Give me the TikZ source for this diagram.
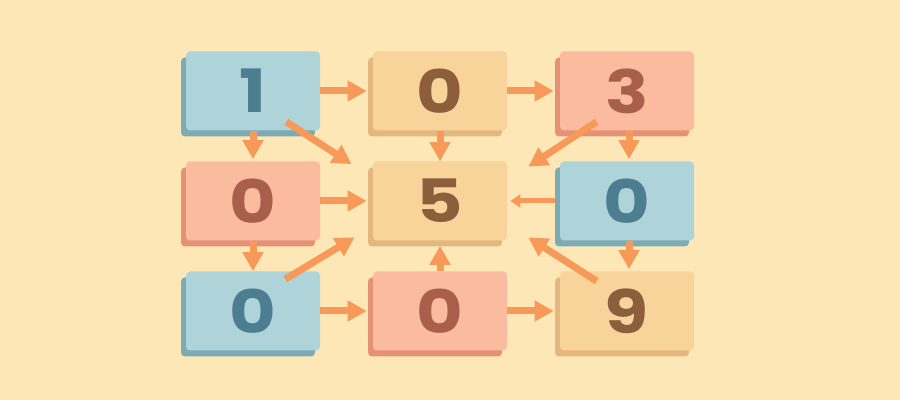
\documentclass[tikz,border=0pt]{standalone}
\usepackage{fontspec}
\usepackage{graphicx}
\setmainfont{Poppins}
\usetikzlibrary{arrows.meta,shadows}
\definecolor{bg}{RGB}{253,231,183}
\definecolor{blueface}{RGB}{174,212,217}
\definecolor{blueside}{RGB}{124,170,181}
\definecolor{bluetext}{RGB}{76,125,145}
\definecolor{tanface}{RGB}{248,212,155}
\definecolor{tanside}{RGB}{228,183,127}
\definecolor{tantext}{RGB}{140,94,60}
\definecolor{salmonface}{RGB}{251,187,158}
\definecolor{salmonside}{RGB}{228,145,118}
\definecolor{salmontext}{RGB}{168,96,76}
\definecolor{arrowc}{RGB}{247,153,88}
\newcommand{\wide}[1]{\scalebox{1.2}[1]{#1}}
\begin{document}
\begin{tikzpicture}[
            box/.style={rectangle, rounded corners=0.08cm, minimum width=2.68cm, minimum height=1.58cm, inner sep=0pt, font=\fontsize{34}{34}\selectfont\bfseries},
            bluebox/.style={box, fill=blueface, text=bluetext, copy shadow={shadow xshift=-0.1cm, shadow yshift=-0.12cm, fill=blueside, draw=none}},
            tanbox/.style={box, fill=tanface, text=tantext, copy shadow={shadow xshift=-0.1cm, shadow yshift=-0.12cm, fill=tanside, draw=none}},
            salmonbox/.style={box, fill=salmonface, text=salmontext, copy shadow={shadow xshift=-0.1cm, shadow yshift=-0.12cm, fill=salmonside, draw=none}},
            arr/.style={-{Triangle[length=0.38cm, width=0.4cm]}, line width=0.14cm, draw=arrowc},
            thinarr/.style={-{Triangle[length=0.2cm, width=0.26cm]}, line width=0.1cm, draw=arrowc}
        ]
        \fill[bg] (0,0) rectangle (18,8);

        % Grid of digits
        \node[bluebox] (n1) at (5.06,6.18) {\wide{1}};
        \node[tanbox] (n2) at (8.80,6.18) {\wide{0}};
        \node[salmonbox] (n3) at (12.54,6.18) {\wide{3}};
        \node[salmonbox] (n4) at (5.06,3.98) {\wide{0}};
        \node[tanbox] (n5) at (8.80,3.98) {\wide{5}};
        \node[bluebox] (n6) at (12.54,3.98) {\wide{0}};
        \node[bluebox] (n7) at (5.06,1.78) {\wide{0}};
        \node[salmonbox] (n8) at (8.80,1.78) {\wide{0}};
        \node[tanbox] (n9) at (12.54,1.78) {\wide{9}};

        % Row arrows
        \draw[arr] (n1.east) -- ([xshift=-0.12cm]n2.west);
        \draw[arr] (n2.east) -- ([xshift=-0.12cm]n3.west);
        \draw[arr] (n4.east) -- ([xshift=-0.12cm]n5.west);
        \draw[thinarr] ([xshift=-0.1cm]n6.west) -- ([xshift=0.06cm]n5.east);
        \draw[arr] (n7.east) -- ([xshift=-0.12cm]n8.west);
        \draw[arr] (n8.east) -- ([xshift=-0.12cm]n9.west);

        % Column arrows
        \draw[arr] (n1.south) -- ([yshift=0.04cm]n4.north);
        \draw[arr] (n2.south) -- (n5.north);
        \draw[arr] ([xshift=0.04cm]n3.south) -- ([xshift=0.04cm, yshift=0.04cm]n6.north);
        \draw[arr] (n4.south) -- (n7.north);
        \draw[arr] ([xshift=0.04cm]n6.south) -- ([xshift=0.04cm, yshift=0.04cm]n9.north);
        \draw[arr] (n8.north) -- ([yshift=-0.1cm]n5.south);

        % Diagonal arrows into the centre
        \draw[arr] ([shift={(-0.68,0.18)}]n1.south east) -- ([shift={(-0.42,-0.06)}]n5.north west);
        \draw[arr] ([shift={(0.74,0.18)}]n3.south west) -- ([shift={(0.42,-0.11)}]n5.north east);
        \draw[arr] ([shift={(-0.7,-0.16)}]n7.north east) -- ([shift={(-0.36,0.07)}]n5.south west);
        \draw[arr] ([shift={(0.74,-0.2)}]n9.north west) -- ([shift={(0.42,0.07)}]n5.south east);
\end{tikzpicture}
\end{document}
